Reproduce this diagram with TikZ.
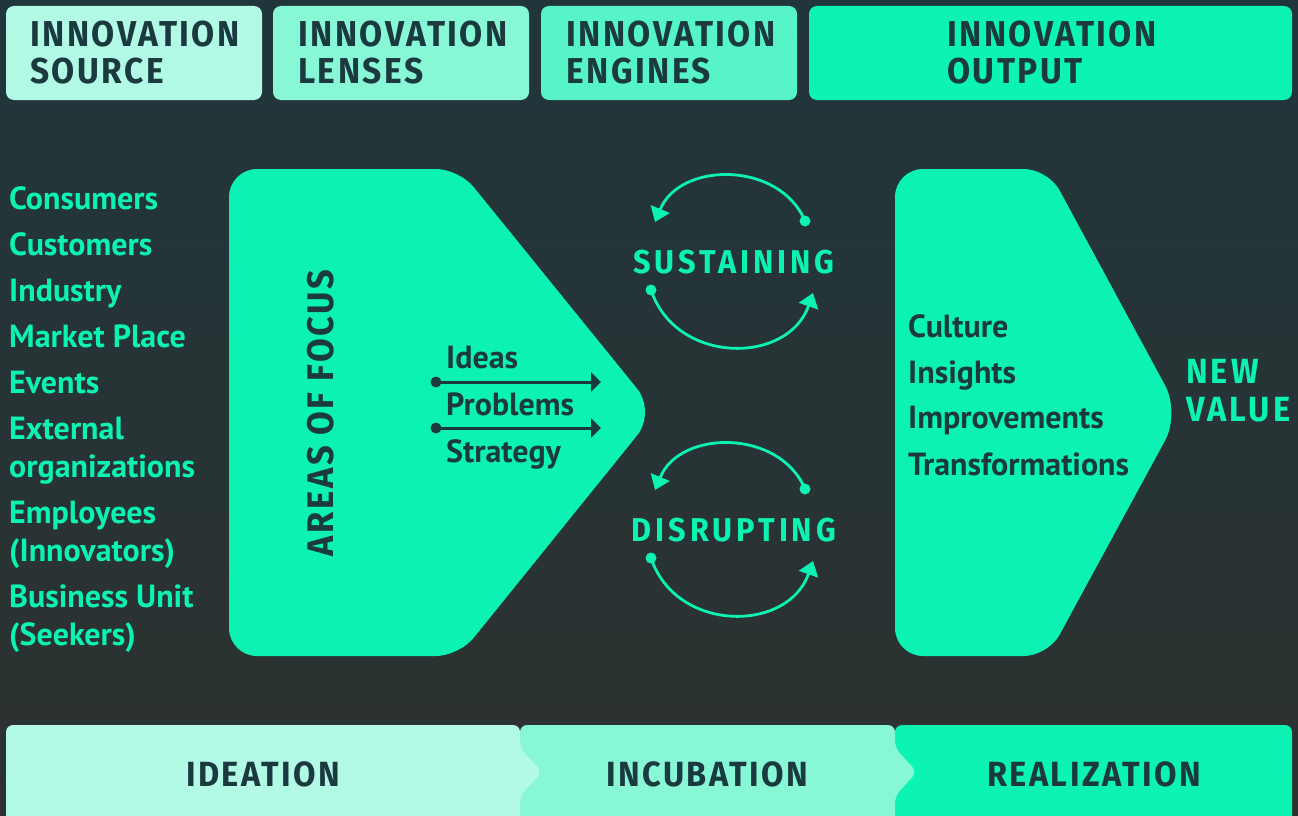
\documentclass[tikz,border=0pt]{standalone}
\usepackage{fontspec}
\setmainfont{PT Sans}
\newfontfamily\hdr{Fira Sans}[FakeStretch=0.93,LetterSpace=7]
\newfontfamily\hdrmid{Fira Sans}[FakeStretch=0.93,LetterSpace=9]
\newfontfamily\hdrwide{Fira Sans}[FakeStretch=0.93,LetterSpace=12]
\usetikzlibrary{arrows.meta}
\definecolor{bgtop}{HTML}{21363B}
\definecolor{bgbot}{HTML}{2D3130}
\definecolor{grn}{HTML}{0CF2B2}
\definecolor{drk}{HTML}{1B3A3F}
\definecolor{boxa}{HTML}{B3FAE6}
\definecolor{boxb}{HTML}{87F7D6}
\definecolor{boxc}{HTML}{56F4C6}
\definecolor{boxd}{HTML}{0CF3B3}
\begin{document}
\begin{tikzpicture}[x=1pt,y=-1pt,
  hdrtxt/.style={anchor=base west, inner sep=0pt, text=drk, font=\hdr\bfseries\fontsize{36}{36}\selectfont},
  listtxt/.style={anchor=base west, inner sep=0pt, text=grn, font=\bfseries\fontsize{32}{32}\selectfont},
  darktxt/.style={anchor=base west, inner sep=0pt, text=drk, font=\bfseries\fontsize{32}{32}\selectfont},
  engtxt/.style={anchor=base, inner sep=0pt, text=grn, font=\hdrwide\bfseries\fontsize{33}{33}\selectfont},
  valtxt/.style={anchor=base west, inner sep=0pt, text=grn, font=\hdrmid\bfseries\fontsize{35}{35}\selectfont},
  bartxt/.style={anchor=base, inner sep=0pt, text=drk, font=\hdr\bfseries\fontsize{35}{35}\selectfont},
  cyc/.style={draw=grn, line width=2.8pt, -{Triangle[length=14pt,width=20pt]}},
  flowarrow/.style={draw=drk, line width=3pt, -{Triangle[length=10pt,width=19pt]}},
]
\useasboundingbox (0,0) rectangle (1298,816);
\shade[top color=bgtop, bottom color=bgbot] (0,0) rectangle (1298,816);
\clip (0,0) rectangle (1298,816);

% header boxes
\fill[boxa, rounded corners=8pt] (6,6) rectangle (262,100);
\fill[boxb, rounded corners=8pt] (273,6) rectangle (529,100);
\fill[boxc, rounded corners=8pt] (541,6) rectangle (797,100);
\fill[boxd, rounded corners=8pt] (809,6) rectangle (1292,100);
\node[hdrtxt] (h1a) at (30,47) {INNOVATION};
\node[hdrtxt] (h1b) at (30,84) {SOURCE};
\node[hdrtxt] (h2a) at (298,47) {INNOVATION};
\node[hdrtxt] (h2b) at (298,84) {LENSES};
\node[hdrtxt] (h3a) at (566,47) {INNOVATION};
\node[hdrtxt] (h3b) at (566,84) {ENGINES};
\node[hdrtxt] (h4a) at (947,47) {INNOVATION};
\node[hdrtxt] (h4b) at (947,84) {OUTPUT};

% source list
\node[listtxt] (l1) at (9,209) {Consumers};
\node[listtxt] (l2) at (9,255) {Customers};
\node[listtxt] (l3) at (9,301) {Industry};
\node[listtxt] (l4) at (9,347) {Market Place};
\node[listtxt] (l5) at (9,393) {Events};
\node[listtxt] (l6a) at (9,439) {External};
\node[listtxt] (l6b) at (9,477) {organizations};
\node[listtxt] (l7a) at (9,523) {Employees};
\node[listtxt] (l7b) at (9,561) {(Innovators)};
\node[listtxt] (l8a) at (9,607) {Business Unit};
\node[listtxt] (l8b) at (9,645) {(Seekers)};

% lenses shape
\fill[grn] (229,412) [rounded corners=28pt] -- (229,169) [rounded corners=23pt] -- (459,169)
  [rounded corners=30pt] -- (656,412) [rounded corners=23pt] -- (459,656) [rounded corners=28pt] -- (229,656) -- cycle;
\node[rotate=90, anchor=base, inner sep=0pt, text=drk, font=\hdr\bfseries\fontsize{37}{37}\selectfont] (aof) at (333,413) {AREAS OF FOCUS};
\node[darktxt] (ideas) at (446,368) {Ideas};
\node[darktxt] (probs) at (446,415) {Problems};
\node[darktxt] (strat) at (446,462) {Strategy};
\coordinate (f1s) at (436,382);
\coordinate (f1e) at (601,382);
\coordinate (f2s) at (436,428);
\coordinate (f2e) at (601,428);
\draw[flowarrow] (f1s) -- (f1e);
\draw[flowarrow] (f2s) -- (f2e);
\fill[drk] (f1s) circle (5.5);
\fill[drk] (f2s) circle (5.5);

% engines
\node[engtxt] (sus) at (734,273) {SUSTAINING};
\node[engtxt] (dis) at (734,541) {DISRUPTING};
\coordinate (s1a) at (805,221);
\coordinate (s1b) at (655,222);
\coordinate (s2a) at (651,290);
\coordinate (s2b) at (813,293);
\coordinate (d1a) at (805,489);
\coordinate (d1b) at (655,490);
\coordinate (d2a) at (651,558);
\coordinate (d2b) at (813,561);
\draw[cyc] (s1a) .. controls (780,161) and (680,161) .. (s1b);
\draw[cyc] (s2a) .. controls (676,365) and (788,365) .. (s2b);
\draw[cyc] (d1a) .. controls (780,429) and (680,429) .. (d1b);
\draw[cyc] (d2a) .. controls (676,633) and (788,633) .. (d2b);
\foreach \p in {s1a,s2a,d1a,d2a} \fill[grn] (\p) circle (5.5);

% output shape
\fill[grn] (895,412) [rounded corners=28pt] -- (895,169) [rounded corners=24pt] -- (1048,169)
  [rounded corners=31pt] -- (1180,413) [rounded corners=24pt] -- (1048,656) [rounded corners=28pt] -- (895,656) -- cycle;
\node[darktxt] (o1) at (908,337) {Culture};
\node[darktxt] (o2) at (908,383) {Insights};
\node[darktxt] (o3) at (908,428) {Improvements};
\node[darktxt] (o4) at (908,475) {Transformations};
\node[valtxt] (nv1) at (1186,383) {NEW};
\node[valtxt] (nv2) at (1186,421) {VALUE};

% bottom phases
\fill[boxd, rounded corners=7pt] (895,850) -- (895,725) -- (1292,725) -- (1292,850) -- cycle;
\fill[boxb, rounded corners=7pt] (520,850) -- (520,725) -- (895,725) -- (895,748) -- (917,772) -- (895,796) -- (895,850) -- cycle;
\fill[boxa, rounded corners=7pt] (6,850) -- (6,725) -- (520,725) -- (520,748) -- (542,772) -- (520,796) -- (520,850) -- cycle;
\node[bartxt] (p1) at (263,786) {IDEATION};
\node[bartxt] (p2) at (707,786) {INCUBATION};
\node[bartxt] (p3) at (1094,786) {REALIZATION};
\end{tikzpicture}
\end{document}
